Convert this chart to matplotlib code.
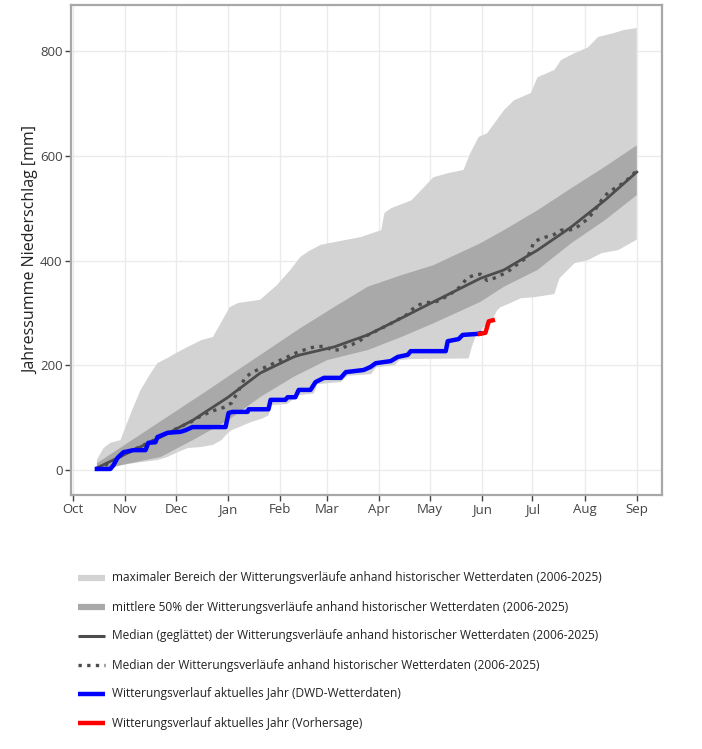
import matplotlib
matplotlib.use("Agg")
import matplotlib.pyplot as plt
from matplotlib.lines import Line2D

plt.rcParams['font.family'] = ['Open Sans', 'DejaVu Sans']

# Tage seit 1. Oktober
monate = ['Oct', 'Nov', 'Dec', 'Jan', 'Feb', 'Mar', 'Apr', 'May', 'Jun', 'Jul', 'Aug', 'Sep']
monat_tage = [0, 31, 61, 92, 123, 151, 182, 212, 243, 273, 304, 335]

# maximaler Bereich
max_ober_tag = [14, 18, 22, 28, 31, 35, 40, 46, 50, 56, 62, 68, 76, 83, 93, 98, 111, 121, 129, 135,
                140, 147, 171, 183, 185, 189, 201, 207, 214, 223, 232, 236, 241, 246, 256, 262,
                272, 276, 286, 290, 298, 306, 312, 321, 327, 335]
max_ober = [20, 42, 52, 57, 82, 115, 153, 185, 204, 214, 225, 235, 248, 254, 311, 319, 325, 353, 382, 407,
            418, 430, 445, 458, 491, 500, 515, 535, 559, 567, 573, 605, 636, 643, 687, 706,
            720, 750, 764, 783, 796, 807, 827, 834, 840, 844]
max_unter_tag = [14, 22, 30, 40, 50, 56, 62, 68, 76, 83, 88, 92, 94, 100, 106, 112, 116, 118, 127, 134,
                 143, 145, 159, 163, 177, 180, 191, 194, 201, 235, 237, 239, 244, 248, 252, 254,
                 260, 266, 274, 286, 289, 298, 306, 314, 324, 335]
max_unter = [-3, 4, 10, 15, 19, 25, 34, 42, 44, 48, 57, 71, 76, 84, 92, 98, 104, 124, 126, 143,
             146, 164, 168, 180, 183, 196, 200, 210, 212, 213, 236, 254, 273, 281, 305, 311,
             319, 328, 330, 336, 366, 395, 401, 414, 420, 440]

# mittlere 50%
q_ober_tag = [14, 76, 135, 155, 175, 195, 214, 242, 256, 276, 296, 316, 335]
q_ober = [13, 144, 271, 311, 350, 372, 391, 433, 458, 496, 538, 579, 620]
q_unter_tag = [14, 52, 71, 92, 111, 131, 151, 175, 195, 214, 242, 256, 276, 296, 316, 335]
q_unter = [0, 25, 57, 95, 139, 178, 210, 229, 254, 280, 321, 350, 382, 433, 477, 525]

# Median geglaettet
med_glatt_tag = [14, 32, 52, 71, 92, 111, 131, 135, 155, 175, 195, 214, 242, 256, 276, 296, 316, 335]
med_glatt = [4, 32, 63, 95, 139, 185, 216, 220, 235, 258, 290, 321, 366, 382, 420, 464, 515, 569]

# Median (ungeglaettet)
med_tag = [14, 18, 22, 26, 30, 34, 38, 42, 46, 50, 54, 58, 62, 66, 70, 74, 78, 82, 86, 90,
           94, 98, 102, 106, 110, 114, 118, 122, 126, 130, 134, 138, 142, 146, 150, 154, 158, 162,
           166, 170, 174, 178, 182, 186, 190, 194, 198, 202, 206, 210, 214, 218, 222, 226, 230,
           234, 238, 242, 246, 250, 254, 258, 262, 266, 270, 274, 278, 282, 286, 290, 294, 298,
           302, 306, 310, 314, 318, 322, 326, 330, 335]
med = [3, 8, 14, 22, 30, 36, 42, 48, 54, 61, 68, 74, 80, 86, 92, 100, 106, 112, 116, 120,
       128, 150, 176, 186, 192, 196, 202, 208, 214, 220, 226, 230, 234, 236, 236, 228, 230, 236,
       240, 246, 256, 262, 269, 275, 282, 289, 296, 308, 316, 320, 320, 324, 332, 340, 350,
       366, 372, 374, 362, 366, 372, 378, 388, 398, 406, 436, 442, 446, 450, 458, 458, 460,
       470, 480, 496, 515, 530, 538, 546, 556, 572]

# aktuelles Jahr (DWD)
akt_tag = [14, 22, 23.8, 26.2, 29.8, 35.7, 42.9, 44.6, 48.8, 50, 56, 63.7, 66.7, 70.8, 90.5, 92.3,
           94.6, 103.6, 104.2, 116, 117.3, 126, 127.4, 132, 134, 141, 144, 149, 159, 162, 172.6,
           176.8, 179.8, 188.7, 192.9, 198.8, 200.6, 221.4, 222.6, 229, 231.5, 240.5, 241.7]
akt = [2, 2, 9, 23, 34, 38, 38, 52, 53, 63, 71, 73, 76, 82, 82, 109,
       111, 111, 116, 116, 134, 134, 139, 139, 153, 153, 168, 176, 176, 187, 191,
       197, 204, 208, 216, 220, 227, 227, 246, 250, 258, 260, 261]

# Vorhersage
vorh_tag = [241.7, 245, 247, 249.4]
vorh = [260, 262, 284, 286]

fig = plt.figure(figsize=(7.02, 7.49), dpi=100)
ax = fig.add_axes([71 / 702, 1 - 495 / 749, 591 / 702, 490 / 749])

# Baender als Polygone (oben hin, unten zurueck)
ax.fill(max_ober_tag + max_unter_tag[::-1], max_ober + max_unter[::-1],
        color='#d3d3d3', linewidth=0, zorder=1)
ax.fill(q_ober_tag + q_unter_tag[::-1], q_ober + q_unter[::-1],
        color='#a9a9a9', linewidth=0, zorder=1.2)

ax.plot(med_glatt_tag, med_glatt, color='#4d4d4d', lw=2, zorder=3)
ax.plot(med_tag, med, color='#4d4d4d', lw=2.4, ls=(0, (1, 1.6)), zorder=3)
ax.plot(akt_tag, akt, color='#0000ff', lw=3.2, zorder=4)
ax.plot(vorh_tag, vorh, color='#ff0000', lw=3.2, zorder=4)

ax.set_xlim(-1.4, 350)
ax.set_ylim(-47.7, 888)
ax.set_xticks(monat_tage)
ax.set_xticklabels(monate)
ax.set_yticks([0, 200, 400, 600, 800])
ax.grid(True, color='#ebebeb', lw=1, zorder=0)
ax.set_axisbelow(True)
for s in ax.spines.values():
    s.set_color('#a8a8a8')
    s.set_linewidth(1.6)
ax.tick_params(colors='#444444', labelsize=9.5, length=4, width=1, direction='out', pad=2)
ax.set_ylabel('Jahressumme Niederschlag [mm]', fontsize=11.5, color='#222222')
ax.yaxis.set_label_coords(-32 / 591, 0.5)

# Legende
eintraege = [
    ('maximaler Bereich der Witterungsverläufe anhand historischer Wetterdaten (2006-2025)', '#d3d3d3', 4.5, '-'),
    ('mittlere 50% der Witterungsverläufe anhand historischer Wetterdaten (2006-2025)', '#a9a9a9', 4.5, '-'),
    ('Median (geglättet) der Witterungsverläufe anhand historischer Wetterdaten (2006-2025)', '#4d4d4d', 2.2, '-'),
    ('Median der Witterungsverläufe anhand historischer Wetterdaten (2006-2025)', '#4d4d4d', 2.4, (0, (1, 1.6))),
    ('Witterungsverlauf aktuelles Jahr (DWD-Wetterdaten)', '#0000ff', 3.2, '-'),
    ('Witterungsverlauf aktuelles Jahr (Vorhersage)', '#ff0000', 3.2, '-'),
]
for i, (txt, farbe, lw, ls) in enumerate(eintraege):
    yy = 1 - (578 + 29 * i) / 749
    fig.add_artist(Line2D([78 / 702, 105 / 702], [yy, yy], color=farbe, lw=lw, ls=ls,
                          solid_capstyle='butt'))
    fig.text(112 / 702, yy, txt, fontsize=8.55, color='#222222', va='center')

fig.savefig('out.png', dpi=100)
